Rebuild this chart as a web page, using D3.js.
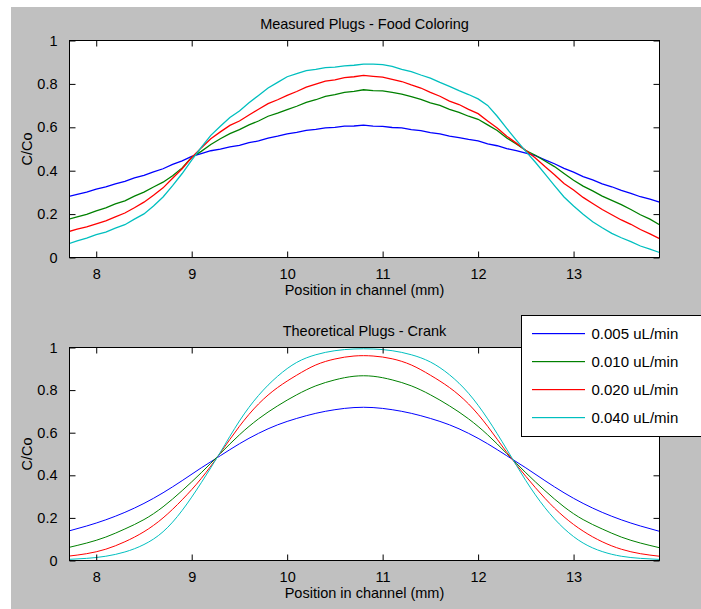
<!DOCTYPE html>
<html>
<head>
<meta charset="utf-8">
<script src="https://cdn.jsdelivr.net/npm/d3@7"></script>
<style>
body { margin: 0; background: #fff; }
text { font-family: "Liberation Sans", Arial, sans-serif; fill: #000; }
</style>
</head>
<body>
<script>
// flow rates (legend)
var seriesNames = ["0.005 uL/min", "0.010 uL/min", "0.020 uL/min", "0.040 uL/min"];
var colors = ["#0000ff", "#008000", "#ff0000", "#00bfbf"];
var xTicks = [8, 9, 10, 11, 12, 13];
var yTicks = [0, 0.2, 0.4, 0.6, 0.8, 1];

// measured plugs, read every 0.1 mm
var posMeasured = [7.7,7.8,7.9,8.0,8.1,8.2,8.3,8.4,8.5,8.6,8.7,8.8,8.9,9.0,9.1,9.2,9.3,9.4,9.5,9.6,9.7,9.8,9.9,10.0,
  10.1,10.2,10.3,10.4,10.5,10.6,10.7,10.8,10.9,11.0,11.1,11.2,11.3,11.4,11.5,11.6,11.7,11.8,11.9,12.0,
  12.1,12.2,12.3,12.4,12.5,12.6,12.7,12.8,12.9,13.0,13.1,13.2,13.3,13.4,13.5,13.6,13.7,13.8,13.9];
var meas005 = [.280,.291,.301,.315,.325,.339,.351,.367,.379,.395,.409,.429,.445,.466,.479,.492,.499,.510,.517,.529,.537,.550,.559,.570,
  .577,.586,.590,.597,.600,.605,.606,.610,.605,.604,.599,.597,.589,.585,.575,.570,.559,.552,.544,.537,
  .524,.515,.502,.493,.481,.469,.450,.432,.411,.393,.373,.358,.339,.326,.309,.296,.280,.269,.255];
var meas010 = [.175,.187,.199,.215,.229,.247,.261,.283,.301,.325,.347,.377,.413,.462,.489,.521,.547,.571,.589,.611,.629,.651,.665,.681,
  .697,.715,.727,.743,.751,.761,.766,.773,.769,.768,.761,.753,.741,.729,.713,.701,.683,.669,.651,.637,
  .611,.585,.551,.523,.493,.471,.445,.419,.387,.356,.329,.307,.283,.263,.244,.221,.197,.177,.151];
var meas020 = [.118,.131,.141,.155,.169,.187,.205,.229,.255,.287,.321,.365,.409,.461,.505,.547,.579,.609,.629,.657,.683,.709,.727,.747,
  .765,.785,.799,.813,.819,.829,.833,.839,.835,.831,.821,.811,.795,.781,.761,.743,.721,.705,.683,.663,
  .629,.597,.559,.527,.493,.459,.419,.381,.341,.311,.277,.249,.221,.197,.173,.153,.129,.109,.087];
var meas040 = [.062,.077,.089,.105,.117,.135,.151,.177,.201,.237,.279,.331,.387,.449,.507,.563,.605,.645,.675,.713,.747,.781,.807,.833,
  .847,.861,.867,.875,.877,.883,.886,.891,.891,.889,.881,.867,.857,.841,.827,.807,.789,.769,.751,.731,
  .701,.651,.595,.541,.489,.439,.385,.331,.279,.237,.199,.165,.137,.111,.091,.073,.053,.039,.023];

// theoretical plugs (Crank), read every 0.2 mm
var posTheory = [7.7,7.9,8.1,8.3,8.5,8.7,8.9,9.1,9.3,9.5,9.7,9.9,10.1,10.3,10.5,10.7,
  10.9,11.1,11.3,11.5,11.7,11.9,12.1,12.3,12.5,12.7,12.9,13.1,13.3,13.5,13.7,13.9];
var theo005 = [.137,.162,.191,.226,.268,.318,.375,.435,.492,.548,.597,.637,.667,.691,.708,.718,
  .718,.708,.691,.667,.637,.597,.548,.492,.435,.375,.318,.268,.226,.191,.162,.137];
var theo010 = [.060,.082,.110,.148,.192,.252,.328,.412,.502,.590,.665,.726,.778,.820,.848,.865,
  .865,.848,.820,.778,.726,.665,.590,.502,.412,.328,.252,.192,.148,.110,.082,.060];
var theo020 = [.020,.032,.053,.088,.135,.200,.285,.385,.505,.630,.735,.812,.870,.918,.946,.960,
  .960,.947,.918,.870,.812,.735,.630,.508,.395,.292,.205,.138,.088,.053,.032,.020];
var theo040 = [.005,.010,.020,.040,.075,.135,.235,.365,.508,.655,.775,.865,.930,.966,.985,.993,
  .993,.985,.966,.932,.872,.785,.665,.522,.375,.248,.150,.082,.042,.020,.010,.005];

var measured = [meas005, meas010, meas020, meas040];
var theory = [theo005, theo010, theo020, theo040];

var W = 701, H = 609;
var svg = d3.select("body").append("svg").attr("width", W).attr("height", H);
svg.append("rect").attr("x", 11).attr("y", 7).attr("width", W - 11).attr("height", H - 7).attr("fill", "#c0c0c0");

var left = 69.5, right = 659.5;
var x = d3.scaleLinear().domain([7.72, 13.9]).range([left, right]);

function panel(top, bottom, title, xs, data, id, smooth) {
  var y = d3.scaleLinear().domain([0, 1]).range([bottom, top]);
  var g = svg.append("g");
  g.append("rect").attr("x", left).attr("y", top).attr("width", right - left).attr("height", bottom - top).attr("fill", "#fff");
  svg.append("clipPath").attr("id", id).append("rect")
    .attr("x", left).attr("y", top).attr("width", right - left).attr("height", bottom - top);

  var line = d3.line().x(function(d, i) { return x(xs[i]); }).y(function(d) { return y(d); })
    .curve(smooth ? d3.curveNatural : d3.curveLinear);
  g.append("g").attr("clip-path", "url(#" + id + ")").selectAll("path").data(data).enter().append("path")
    .attr("d", line).attr("fill", "none").attr("stroke", function(d, i) { return colors[i]; })
    .attr("stroke-width", smooth ? 1 : 1.3);

  // axes, ticks inward on all four sides
  var ax = function(a) {
    a.select(".domain").remove();
    a.selectAll(".tick line").attr("stroke", "#000");
    a.selectAll(".tick text").attr("font-size", "14.5px").attr("fill", "#000").style("font-family", "Liberation Sans, Arial, sans-serif");
  };
  g.append("g").attr("transform", "translate(0," + bottom + ")")
    .call(d3.axisBottom(x).tickValues(xTicks).tickSizeInner(-6).tickSizeOuter(0).tickPadding(11).tickFormat(d3.format("d"))).call(ax);
  g.append("g").attr("transform", "translate(0," + top + ")")
    .call(d3.axisTop(x).tickValues(xTicks).tickSizeInner(-6).tickSizeOuter(0).tickFormat("")).call(ax);
  g.append("g").attr("transform", "translate(" + left + ",0)")
    .call(d3.axisLeft(y).tickValues(yTicks).tickSizeInner(-6).tickSizeOuter(0).tickPadding(12).tickFormat(function(d) { return d === 0 || d === 1 ? d : d3.format(".1f")(d); })).call(ax);
  g.append("g").attr("transform", "translate(" + right + ",0)")
    .call(d3.axisRight(y).tickValues(yTicks).tickSizeInner(-6).tickSizeOuter(0).tickFormat("")).call(ax);
  g.append("rect").attr("x", left).attr("y", top).attr("width", right - left).attr("height", bottom - top)
    .attr("fill", "none").attr("stroke", "#000").attr("stroke-width", 1);

  g.append("text").attr("x", (left + right) / 2).attr("y", top - 12).attr("text-anchor", "middle")
    .attr("font-size", "14.5px").text(title);
  g.append("text").attr("x", (left + right) / 2).attr("y", bottom + 37.5).attr("text-anchor", "middle")
    .attr("font-size", "14.5px").text("Position in channel (mm)");
  g.append("text").attr("transform", "translate(31.5," + (top + bottom) / 2 + ") rotate(-90)").attr("text-anchor", "middle")
    .attr("font-size", "14.5px").text("C/Co");
}

panel(40.5, 257.5, "Measured Plugs - Food Coloring", posMeasured, measured, "clipTop", false);
panel(347.5, 560.5, "Theoretical Plugs - Crank", posTheory, theory, "clipBottom", true);

// legend
var lg = svg.append("g");
lg.append("rect").attr("x", 521.5).attr("y", 315.5).attr("width", 190).attr("height", 121)
  .attr("fill", "#fff").attr("stroke", "#000").attr("stroke-width", 1);
var rowY = d3.scalePoint().domain(seriesNames).range([333, 417]);
lg.selectAll(".key").data(seriesNames).enter().append("rect").attr("class", "key")
  .attr("x", 532).attr("y", function(d) { return rowY(d); }).attr("width", 53).attr("height", 1.2)
  .attr("fill", function(d, i) { return colors[i]; });
lg.selectAll(".label").data(seriesNames).enter().append("text").attr("class", "label")
  .attr("x", 591.5).attr("y", function(d) { return rowY(d) + 0.5; }).attr("dy", "0.36em")
  .attr("font-size", "15px").text(function(d) { return d; });
</script>
</body>
</html>
